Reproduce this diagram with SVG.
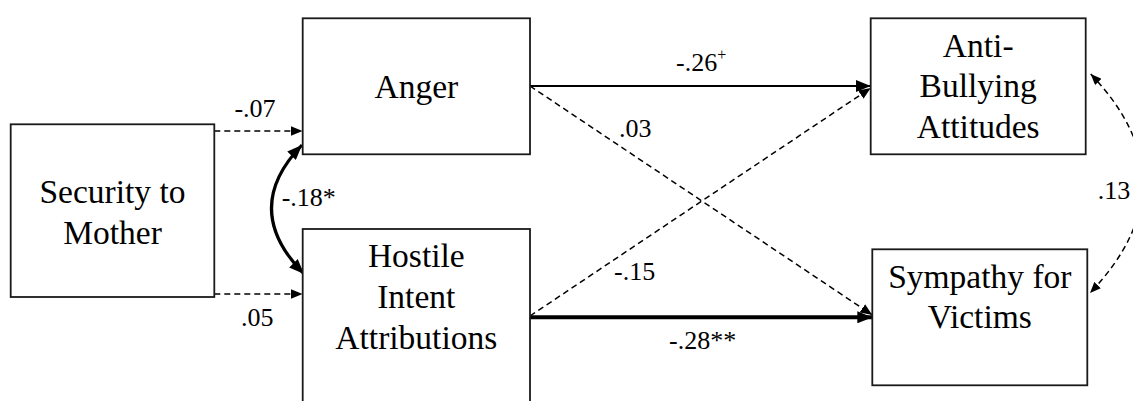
<svg xmlns="http://www.w3.org/2000/svg" width="1133" height="401" viewBox="0 0 1133 401">
  <style>
    .box { fill: #ffffff; stroke: #1a1a1a; stroke-width: 1.8; }
    .node { font-size: 33.5px; fill: #000; text-anchor: middle; }
    .lbl { font-size: 26px; fill: #000; }
    .dash { fill: none; stroke: #000; stroke-width: 1.5; stroke-dasharray: 6 4; }
    .solid { fill: none; stroke: #000; stroke-width: 2; }
    .thick { fill: none; stroke: #000; stroke-width: 4; }
    .curve { fill: none; stroke: #000; stroke-width: 3.2; }
  </style>
  <defs>
    <marker id="ah" markerUnits="userSpaceOnUse" markerWidth="12" markerHeight="10" viewBox="0 0 12 10" refX="12" refY="5" orient="auto">
      <path d="M0,0 L12,5 L0,10 z" fill="#000"/>
    </marker>
    <marker id="ahs" markerUnits="userSpaceOnUse" markerWidth="11" markerHeight="9" viewBox="0 0 11 9" refX="11" refY="4.5" orient="auto-start-reverse">
      <path d="M0,0 L11,4.5 L0,9 z" fill="#000"/>
    </marker>
    <marker id="ahb" markerUnits="userSpaceOnUse" markerWidth="15" markerHeight="12" viewBox="0 0 15 12" refX="15" refY="6" orient="auto-start-reverse">
      <path d="M0,0 L15,6 L0,12 z" fill="#000"/>
    </marker>
  </defs>

  <g font-family="Liberation Serif, serif">
  <g id="connectors">
    <line class="dash" x1="214.3" y1="131" x2="302.5" y2="131" marker-end="url(#ah)"/>
    <line class="dash" x1="214.3" y1="294" x2="302.5" y2="294" marker-end="url(#ah)"/>
    <path class="curve" d="M302,145 Q240,209 304,274" marker-start="url(#ahb)" marker-end="url(#ahb)"/>
    <line class="solid" x1="530" y1="86" x2="870.7" y2="86" marker-end="url(#ahb)"/>
    <line class="dash" x1="530" y1="86" x2="872.3" y2="315" marker-end="url(#ah)"/>
    <line class="dash" x1="530" y1="316" x2="870.7" y2="88" marker-end="url(#ah)"/>
    <line class="thick" x1="530" y1="317.3" x2="872.3" y2="317.3" marker-end="url(#ahb)"/>
    <path class="dash" d="M1090.7,74 Q1195,183 1090,293" marker-start="url(#ahs)" marker-end="url(#ahs)"/>
    <text class="lbl" x="255" y="117" text-anchor="middle">-.07</text>
    <text class="lbl" x="257.3" y="326" text-anchor="middle">.05</text>
    <text class="lbl" x="281.7" y="206">-.18*</text>
    <text class="lbl" x="676" y="70.7">-.26<tspan font-size="16" dy="-11">+</tspan></text>
    <text class="lbl" x="619" y="137.3">.03</text>
    <text class="lbl" x="614" y="280">-.15</text>
    <text class="lbl" x="669" y="349">-.28**</text>
    <text class="lbl" x="1097.7" y="199.3">.13</text>
  </g>

  <g id="security">
    <rect class="box" x="10.7" y="124.3" width="203.6" height="172.7"/>
    <text class="node" x="112.5" y="203">Security to</text>
    <text class="node" x="112.5" y="244.3">Mother</text>
  </g>
  <g id="anger">
    <rect class="box" x="302.7" y="18.3" width="227.3" height="136"/>
    <text class="node" x="416.3" y="98.3">Anger</text>
  </g>
  <g id="hostile">
    <rect class="box" x="302.7" y="229" width="227.3" height="200"/>
    <text class="node" x="416.3" y="266.7">Hostile</text>
    <text class="node" x="416.3" y="308.3">Intent</text>
    <text class="node" x="416.3" y="349">Attributions</text>
  </g>
  <g id="antibullying">
    <rect class="box" x="870.7" y="18.3" width="215" height="136"/>
    <text class="node" x="978.2" y="56.7">Anti-</text>
    <text class="node" x="978.2" y="97.3">Bullying</text>
    <text class="node" x="978.2" y="137.7">Attitudes</text>
  </g>
  <g id="sympathy">
    <rect class="box" x="872.3" y="249.3" width="215" height="136"/>
    <text class="node" x="979.8" y="288.3">Sympathy for</text>
    <text class="node" x="979.8" y="328.3">Victims</text>
  </g>
  </g>
</svg>
